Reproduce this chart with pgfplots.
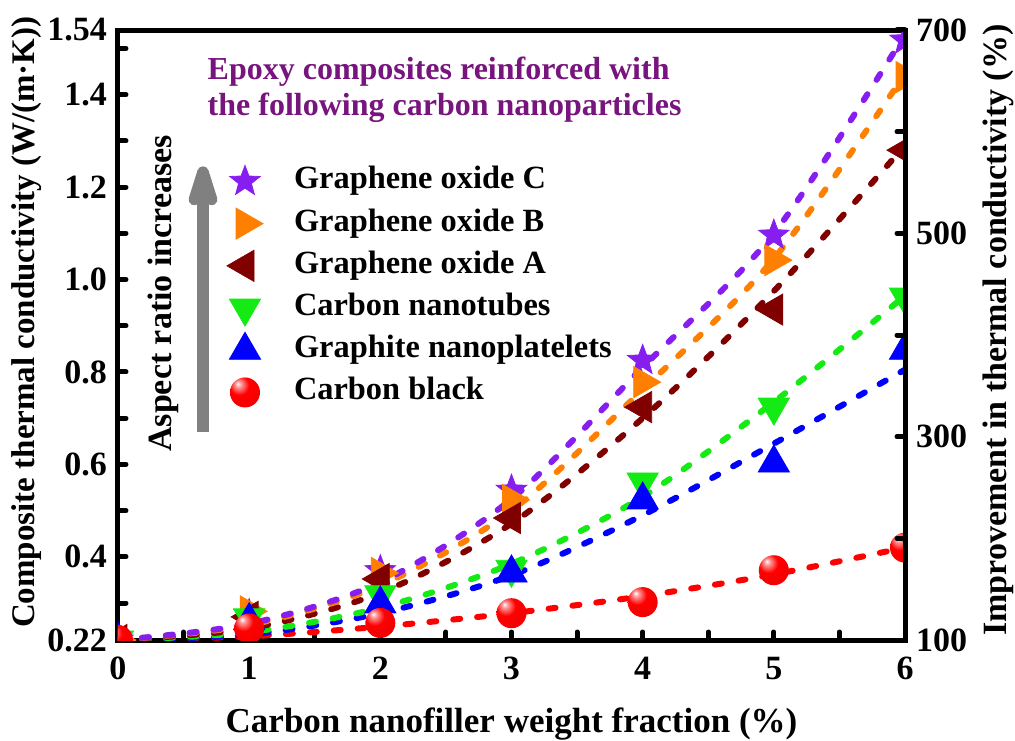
\documentclass[border=0pt]{standalone}
\usepackage{fontspec}
\setmainfont{Liberation Serif}
\usepackage{pgfplots}
\usepackage{pgfplotstable}
\pgfplotsset{compat=1.18}
\usetikzlibrary{arrows.meta}

\definecolor{cgoc}{RGB}{135,30,240}
\definecolor{cgob}{RGB}{255,128,0}
\definecolor{cgoa}{RGB}{128,0,0}
\definecolor{ccnt}{RGB}{20,235,20}
\definecolor{cgnp}{RGB}{0,0,255}
\definecolor{ccb}{RGB}{255,0,0}
\definecolor{ctitle}{RGB}{120,20,125}

% filled five-pointed star
\pgfdeclareplotmark{fstar}{%
  \pgfpathmoveto{\pgfpointpolar{90}{\pgfplotmarksize}}%
  \pgfpathlineto{\pgfpointpolar{126}{0.42\pgfplotmarksize}}%
  \pgfpathlineto{\pgfpointpolar{162}{\pgfplotmarksize}}%
  \pgfpathlineto{\pgfpointpolar{198}{0.42\pgfplotmarksize}}%
  \pgfpathlineto{\pgfpointpolar{234}{\pgfplotmarksize}}%
  \pgfpathlineto{\pgfpointpolar{270}{0.42\pgfplotmarksize}}%
  \pgfpathlineto{\pgfpointpolar{306}{\pgfplotmarksize}}%
  \pgfpathlineto{\pgfpointpolar{342}{0.42\pgfplotmarksize}}%
  \pgfpathlineto{\pgfpointpolar{18}{\pgfplotmarksize}}%
  \pgfpathlineto{\pgfpointpolar{54}{0.42\pgfplotmarksize}}%
  \pgfpathclose
  \pgfusepathqfillstroke}

% glossy red sphere
\pgfdeclareradialshading{redball}{\pgfpoint{-12bp}{15bp}}{%
  color(0bp)=(white); color(5bp)=(white!60!red); color(16bp)=(red);
  color(45bp)=(red!92!black); color(72bp)=(red!70!black)}
\pgfdeclareplotmark{rball}{%
  \pgfpathcircle{\pgfpointorigin}{\pgfplotmarksize}%
  \pgfshadepath{redball}{0}%
  \pgfusepath{}}

% measured points
\pgfplotstableread{
x y
0 0.22
1 0.275
2 0.37
3 0.544
4 0.825
5 1.096
6 1.518
}\goc
\pgfplotstableread{
x y
0 0.22
1 0.282
2 0.365
3 0.523
4 0.778
5 1.042
6 1.438
}\gob
\pgfplotstableread{
x y
0 0.22
1 0.27
2 0.352
3 0.484
4 0.724
5 0.935
6 1.28
}\goa
\pgfplotstableread{
x y
0 0.22
1 0.268
2 0.318
3 0.373
4 0.562
5 0.724
6 0.962
}\cnt
\pgfplotstableread{
x y
0 0.22
1 0.262
2 0.298
3 0.365
4 0.523
5 0.603
6 0.847
}\gnp
\pgfplotstableread{
x y
0 0.22
1 0.245
2 0.257
3 0.278
4 0.302
5 0.371
6 0.42
}\cb

% fitted curves (read off the dashed lines)
\pgfplotstableread{
x y
0 0.22
1 0.255
2 0.345
3 0.525
4 0.81
5 1.10
6 1.53
}\gocfit
\pgfplotstableread{
x y
0 0.22
1 0.252
2 0.338
3 0.50
4 0.762
5 1.045
6 1.445
}\gobfit
\pgfplotstableread{
x y
0 0.22
1 0.245
2 0.322
3 0.472
4 0.70
5 0.975
6 1.29
}\goafit
\pgfplotstableread{
x y
0 0.22
1 0.237
2 0.29
3 0.385
4 0.53
5 0.735
6 0.965
}\cntfit
\pgfplotstableread{
x y
0 0.22
1 0.232
2 0.278
3 0.36
4 0.49
5 0.645
6 0.805
}\gnpfit
\pgfplotstableread{
x y
0 0.22
1 0.228
2 0.249
3 0.278
4 0.315
5 0.362
6 0.42
}\cbfit

\pgfplotsset{fitline/.style={smooth, line width=3pt, dash pattern=on 3.5pt off 8.5pt, line cap=round, no marks, forget plot}}

\begin{document}
\begin{tikzpicture}
\path[use as bounding box] (-59pt,-50pt) rectangle (448.5pt,320pt);
\begin{axis}[
  at={(0,0)}, anchor=south west,
  scale only axis, width=393.5pt, height=305pt,
  xmin=0, xmax=6, ymin=0.22, ymax=1.54,
  clip marker paths=true,
  xtick={0,1,2,3,4,5,6}, xticklabels={0,1,2,3,4,5,6},
  minor xtick={0.5,1.5,2.5,3.5,4.5,5.5},
  ytick={0.22,0.4,0.6,0.8,1.0,1.2,1.4,1.54},
  yticklabels={0.22,0.4,0.6,0.8,1.0,1.2,1.4,1.54},
  minor ytick={0.3,0.5,0.7,0.9,1.1,1.3,1.5},
  xtick pos=bottom, ytick pos=left, tick align=inside,
  major tick length=4pt, minor tick length=4pt,
  every tick/.style={black, line width=2.5pt, line cap=round},
  axis line style={line width=2.5pt},
  tick label style={font=\bfseries\fontsize{17}{20}\selectfont},
  xticklabel style={yshift=-5pt},
  yticklabel style={xshift=-2pt},
  xlabel={Carbon nanofiller weight fraction (\%)},
  ylabel={Composite thermal conductivity (W/(m·K))},
  every axis x label/.style={at={(axis description cs:0.5,-0.152)}, anchor=base,
    font=\bfseries\fontsize{17.5}{20}\selectfont},
  every axis y label/.style={at={(axis description cs:-0.116,0.521)}, anchor=center, rotate=90,
    font=\bfseries\fontsize{16.5}{20}\selectfont},
  legend style={draw=none, fill=none, inner sep=0pt, anchor=north west,
    at={(0.138,0.786)}, font=\bfseries\fontsize{16.2}{18}\selectfont,
    nodes={text height=11pt, text depth=3.5pt, inner sep=3pt},
    column sep=12.5pt, row sep=0.6pt},
  legend cell align=left,
]
\addplot[fitline, ccb] table {\cbfit};
\addplot[fitline, cgnp] table {\gnpfit};
\addplot[fitline, ccnt] table {\cntfit};
\addplot[fitline, cgoa] table {\goafit};
\addplot[fitline, cgob] table {\gobfit};
\addplot[fitline, cgoc] table {\gocfit};

\addplot[only marks, mark=fstar, mark size=8pt, mark options={fill=cgoc, draw=cgoc}] table {\goc};
\addlegendentry{Graphene oxide C}
\addplot[only marks, mark=triangle*, mark size=9pt, mark options={rotate=270, fill=cgob, draw=cgob}] table {\gob};
\addlegendentry{Graphene oxide B}
\addplot[only marks, mark=triangle*, mark size=9pt, mark options={rotate=90, fill=cgoa, draw=cgoa}] table {\goa};
\addlegendentry{Graphene oxide A}
\addplot[only marks, mark=triangle*, mark size=9pt, mark options={rotate=180, fill=ccnt, draw=ccnt}] table {\cnt};
\addlegendentry{Carbon nanotubes}
\addplot[only marks, mark=triangle*, mark size=9pt, mark options={fill=cgnp, draw=cgnp}] table {\gnp};
\addlegendentry{Graphite nanoplatelets}
\addplot[only marks, mark=rball, mark size=7.5pt] table {\cb};
\addlegendentry{Carbon black}

\node[anchor=base west, text=ctitle, font=\bfseries\fontsize{16}{19}\selectfont]
  at (axis cs:0.63,1.432) {Epoxy composites reinforced with};
\node[anchor=base west, text=ctitle, font=\bfseries\fontsize{16}{19}\selectfont]
  at (axis cs:0.63,1.354) {the following carbon nanoparticles};
\coordinate (arrbot) at (axis cs:0.648,0.67);
\coordinate (arrtop) at (axis cs:0.648,1.245);
\node[rotate=90, font=\bfseries\fontsize{17}{20}\selectfont]
  at (axis cs:0.344,0.97) {Aspect ratio increases};
\end{axis}
\draw[-{Stealth[length=34pt, width=21pt, inset=11pt, round]}, line width=6pt, gray]
  (arrbot) -- (arrtop);
\begin{axis}[
  at={(0,0)}, anchor=south west,
  scale only axis, width=393.5pt, height=305pt,
  xmin=0, xmax=6, ymin=100, ymax=700,
  axis x line=none, axis y line*=right,
  ytick={100,300,500,700}, yticklabels={100,300,500,700},
  minor ytick={200,400,600},
  ytick pos=right, tick align=inside,
  major tick length=4pt, minor tick length=4pt,
  every tick/.style={black, line width=2.5pt, line cap=round},
  axis line style={line width=2.5pt},
  tick label style={font=\bfseries\fontsize{17}{20}\selectfont},
  yticklabel style={xshift=2pt},
  ylabel={Improvement in thermal conductivity (\%)},
  every axis y label/.style={at={(axis description cs:1.118,0.508)}, anchor=center, rotate=90,
    font=\bfseries\fontsize{17}{20}\selectfont},
]
\end{axis}
\end{tikzpicture}
\end{document}
